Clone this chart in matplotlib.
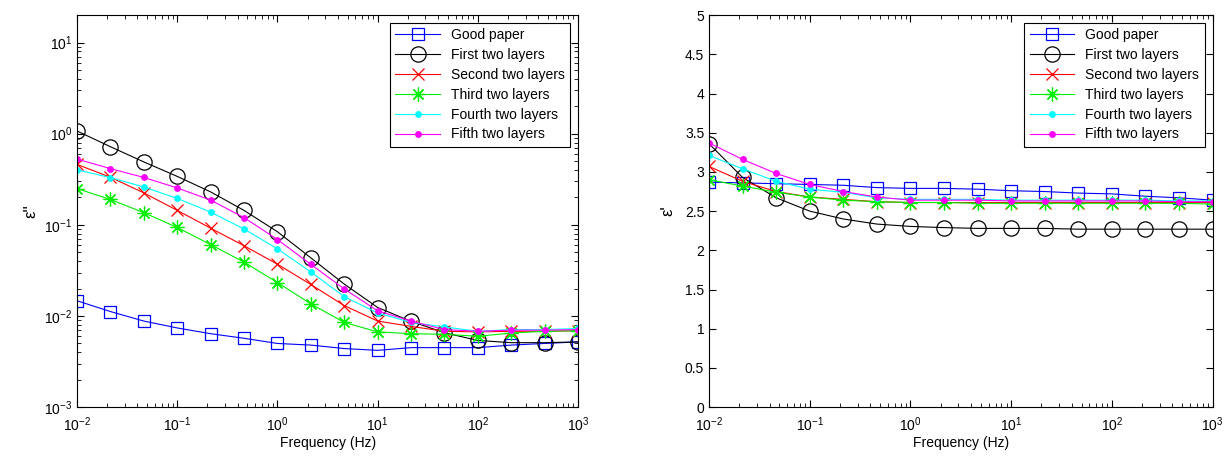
#Dielectric loss and permittivity of the paper samples vs frequency

import numpy as np
import matplotlib.pyplot as plt
from matplotlib.ticker import LogLocator, NullFormatter, MultipleLocator, FormatStrFormatter

plt.rcParams['font.family'] = ['Liberation Sans', 'DejaVu Sans']
plt.rcParams['font.size'] = 10
plt.rcParams['mathtext.fontset'] = 'custom'
plt.rcParams['mathtext.rm'] = 'Liberation Sans'
plt.rcParams['mathtext.it'] = 'Liberation Sans'
plt.rcParams['axes.unicode_minus'] = False

freq = [0.01, 0.0215, 0.0464, 0.1, 0.215, 0.464, 1, 2.15, 4.64, 10, 21.5, 46.4, 100, 215, 464, 1000]

labels = ['Good paper', 'First two layers', 'Second two layers',
          'Third two layers', 'Fourth two layers', 'Fifth two layers']

# imaginary part (loss)
loss_good = [0.0147, 0.0112, 0.0088, 0.0074, 0.0064, 0.0057, 0.0050, 0.0048,
             0.0044, 0.0042, 0.0045, 0.0045, 0.0045, 0.0048, 0.0050, 0.0052]
loss_first = [1.07, 0.72, 0.49, 0.34, 0.23, 0.144, 0.084, 0.0435,
              0.0224, 0.0124, 0.00875, 0.00655, 0.0054, 0.0051, 0.0051, 0.0052]
loss_second = [0.46, 0.333, 0.224, 0.144, 0.092, 0.059, 0.037, 0.0222,
               0.0130, 0.0088, 0.0077, 0.0068, 0.0067, 0.0068, 0.0068, 0.0069]
loss_third = [0.25, 0.19, 0.136, 0.0936, 0.0607, 0.039, 0.0233, 0.0136,
              0.0085, 0.0067, 0.0064, 0.0063, 0.0060, 0.0065, 0.0068, 0.0069]
loss_fourth = [0.40, 0.33, 0.26, 0.195, 0.138, 0.090, 0.0545, 0.0305,
               0.0163, 0.0108, 0.0085, 0.0076, 0.0068, 0.0071, 0.0071, 0.0073]
loss_fifth = [0.527, 0.414, 0.331, 0.254, 0.187, 0.12, 0.069, 0.0369,
              0.0198, 0.0114, 0.0088, 0.0071, 0.0068, 0.0070, 0.0070, 0.0071]

# real part (permittivity)
perm_good = [2.87, 2.86, 2.85, 2.84, 2.83, 2.80, 2.79, 2.79,
             2.78, 2.76, 2.75, 2.73, 2.72, 2.69, 2.67, 2.64]
perm_first = [3.36, 2.93, 2.67, 2.50, 2.40, 2.335, 2.305, 2.29,
              2.28, 2.28, 2.28, 2.27, 2.27, 2.27, 2.27, 2.27]
perm_second = [3.07, 2.88, 2.75, 2.68, 2.65, 2.62, 2.61, 2.61,
               2.61, 2.61, 2.61, 2.61, 2.61, 2.61, 2.61, 2.61]
perm_third = [2.90, 2.82, 2.74, 2.68, 2.64, 2.62, 2.61, 2.61,
              2.60, 2.60, 2.60, 2.60, 2.60, 2.60, 2.60, 2.59]
perm_fourth = [3.21, 3.04, 2.88, 2.78, 2.74, 2.67, 2.65, 2.65,
               2.65, 2.64, 2.64, 2.64, 2.64, 2.64, 2.63, 2.63]
perm_fifth = [3.37, 3.16, 2.98, 2.84, 2.75, 2.68, 2.64, 2.64,
              2.64, 2.63, 2.63, 2.63, 2.63, 2.63, 2.62, 2.62]

styles = [
    dict(color='blue', marker='s', ms=9, mfc='none', mec='blue'),
    dict(color='black', marker='o', ms=11, mfc='none', mec='black'),
    dict(color='red', marker='x', ms=8),
    dict(color='#00ee00', marker=(8, 2, 0), ms=10),
    dict(color='cyan', marker='.', ms=8),
    dict(color='magenta', marker='.', ms=8),
]

fig = plt.figure(figsize=(12.31, 4.57), dpi=100)
ax1 = fig.add_axes([0.0626, 0.109, 0.407, 0.858])
ax2 = fig.add_axes([0.576, 0.109, 0.409, 0.858])

for y, lab, st in zip([loss_good, loss_first, loss_second, loss_third, loss_fourth, loss_fifth], labels, styles):
    ax1.loglog(freq, y, lw=0.8, mew=0.9, label=lab, **st)

for y, lab, st in zip([perm_good, perm_first, perm_second, perm_third, perm_fourth, perm_fifth], labels, styles):
    ax2.semilogx(freq, y, lw=0.8, mew=0.9, label=lab, **st)

ax1.set_xlim(1e-2, 1e3)
ax1.set_ylim(1e-3, 20)
ax1.set_ylabel("ε''", labelpad=4, fontsize=12)
ax2.set_xlim(1e-2, 1e3)
ax2.set_ylim(0, 5)
ax2.yaxis.set_major_locator(MultipleLocator(0.5))
ax2.yaxis.set_major_formatter(FormatStrFormatter('%g'))
ax2.set_ylabel("ε'", labelpad=7, fontsize=12)

for ax in (ax1, ax2):
    ax.set_xlabel('Frequency (Hz)', labelpad=1)
    ax.xaxis.set_major_locator(LogLocator(base=10, numticks=10))
    ax.xaxis.set_minor_locator(LogLocator(base=10, subs=np.arange(2, 10), numticks=10))
    ax.xaxis.set_minor_formatter(NullFormatter())
    ax.tick_params(which='both', direction='in', top=True, right=True)
    ax.tick_params(which='major', length=5)
    ax.tick_params(which='minor', length=3)
    ax.tick_params(axis='x', pad=6)
    leg = ax.legend(loc='upper right', fontsize=10, fancybox=False, framealpha=1,
                    edgecolor='black', labelspacing=0.42, handlelength=3.2,
                    borderaxespad=0.55)
    leg.get_frame().set_linewidth(0.8)

ax1.yaxis.set_minor_locator(LogLocator(base=10, subs=np.arange(2, 10), numticks=10))
ax1.yaxis.set_minor_formatter(NullFormatter())

plt.savefig("out.png", dpi=100)
